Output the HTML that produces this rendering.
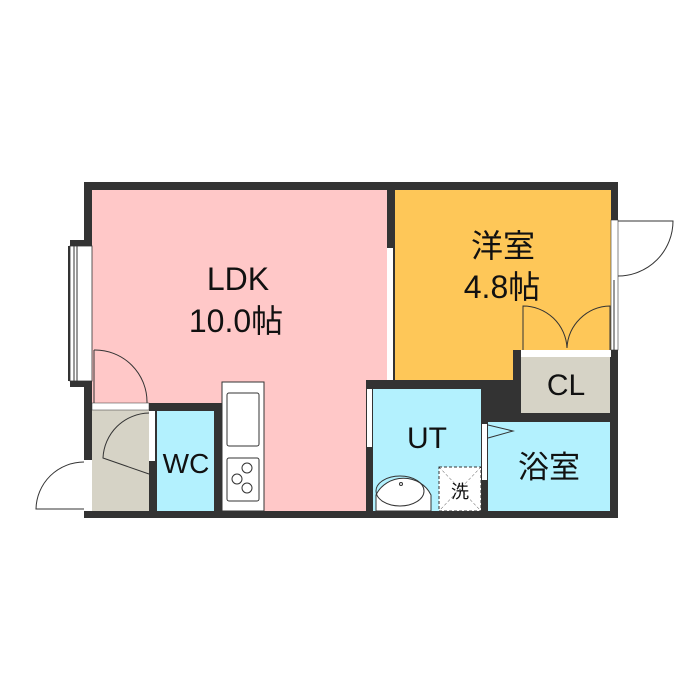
<!DOCTYPE html><html><head><style>body{margin:0;background:#fff}svg{display:block}text{font-family:"Liberation Sans","Noto Sans CJK JP",sans-serif;fill:#111}</style></head><body>
<svg width="700" height="700" viewBox="0 0 700 700">
<rect x="84" y="182" width="534" height="336" fill="#333"/>
<rect x="92" y="190" width="295" height="321" fill="#ffc8c8"/>
<rect x="395" y="190" width="216" height="190" fill="#fec758"/>
<rect x="513" y="350" width="98" height="30" fill="#333"/>
<rect x="521" y="350" width="90" height="7" fill="#fff"/>
<rect x="521" y="357" width="89" height="56" fill="#d6d3c6"/>
<rect x="373" y="389" width="108" height="122" fill="#b3f1fe"/>
<rect x="488" y="422" width="122" height="89" fill="#b3f1fe"/>
<rect x="92" y="410" width="57" height="101" fill="#d6d3c6"/>
<rect x="157" y="411" width="57" height="100" fill="#b3f1fe"/>
<rect x="149" y="411" width="8" height="100" fill="#333"/>
<rect x="149" y="411" width="6" height="50" fill="#fff"/>
<rect x="214" y="403" width="8" height="108" fill="#333"/>
<rect x="92" y="380" width="122" height="23" fill="#ffc8c8"/>
<rect x="92" y="403" width="57" height="7" fill="#fff" stroke="#333" stroke-width=".5"/>
<rect x="149" y="403" width="73" height="8" fill="#333"/>
<rect x="222" y="382" width="42" height="129" fill="#fff" stroke="#333" stroke-width="1"/>
<rect x="227" y="393" width="32" height="53" rx="2" fill="#fff" stroke="#333"/>
<rect x="227" y="458" width="32" height="43" rx="2" fill="#fff" stroke="#333"/>
<circle cx="247" cy="468" r="5" fill="none" stroke="#333"/><circle cx="237" cy="479" r="5" fill="none" stroke="#333"/><circle cx="247" cy="488" r="5" fill="none" stroke="#333"/>
<rect x="68" y="246" width="24" height="135" fill="#333"/>
<rect x="70" y="240" width="22" height="6" fill="#333"/><rect x="70" y="381" width="22" height="6" fill="#333"/>
<rect x="70" y="246" width="22" height="135" fill="#fff" stroke="#333" stroke-width=".8"/>
<line x1="74" y1="246" x2="74" y2="381" stroke="#333"/><line x1="77" y1="246" x2="77" y2="381" stroke="#333"/>
<path d="M94 350 A52 52 0 0 1 147 403" fill="none" stroke="#333"/><line x1="94" y1="350" x2="94" y2="403" stroke="#333"/>
<path d="M149 413 A47 47 0 0 0 103 458 L149 474" fill="none" stroke="#333"/>
<rect x="84" y="460" width="8" height="51" fill="#fff"/>
<path d="M84 462 A48 48 0 0 0 36 509 L84 509" fill="none" stroke="#333"/>
<rect x="387" y="248" width="6" height="132" fill="#fff"/>
<rect x="366" y="380" width="147" height="9" fill="#333"/>
<rect x="366" y="389" width="7" height="122" fill="#333"/>
<rect x="367" y="389" width="5" height="58" fill="#fff"/>
<rect x="481" y="389" width="7" height="122" fill="#333"/>
<rect x="481" y="413" width="130" height="9" fill="#333"/>
<rect x="482" y="424" width="5" height="56" fill="#fff"/>
<path d="M488 425 L513 431 L488 438" fill="none" stroke="#333"/>
<path d="M376 511 L376 495 A30 28 0 0 1 431 495 L431 511Z" fill="#fff" stroke="#333"/>
<ellipse cx="400" cy="491" rx="24" ry="15" fill="none" stroke="#333"/><circle cx="401" cy="484" r="1.5" fill="none" stroke="#333"/>
<rect x="439" y="467" width="42" height="44" fill="#fff" stroke="#333" stroke-dasharray="3,2"/>
<line x1="439" y1="467" x2="481" y2="511" stroke="#333" stroke-width=".5" stroke-dasharray="3,2"/><line x1="481" y1="467" x2="439" y2="511" stroke="#333" stroke-width=".5" stroke-dasharray="3,2"/>
<text x="460" y="498" font-size="18" text-anchor="middle">洗</text>
<path d="M523 350 L523 306 A44 44 0 0 1 567 348 A44 44 0 0 1 610 306 L610 350" fill="none" stroke="#333"/>
<rect x="611" y="220" width="7" height="130" fill="#fff" stroke="#333" stroke-width=".6"/>
<line x1="614" y1="280" x2="614" y2="350" stroke="#333"/>
<path d="M618 221 L673 221 A55 55 0 0 1 618 276" fill="none" stroke="#333"/>
<text x="238" y="290" font-size="32" text-anchor="middle">LDK</text>
<text x="236" y="332" font-size="32" text-anchor="middle">10.0帖</text>
<text x="503" y="257" font-size="32" text-anchor="middle">洋室</text>
<text x="502" y="298" font-size="32" text-anchor="middle">4.8帖</text>
<text x="566" y="395" font-size="30" text-anchor="middle">CL</text>
<text x="427" y="448" font-size="30" text-anchor="middle">UT</text>
<text x="549" y="478" font-size="31" text-anchor="middle">浴室</text>
<text x="186" y="473" font-size="28" text-anchor="middle">WC</text>
</svg></body></html>
